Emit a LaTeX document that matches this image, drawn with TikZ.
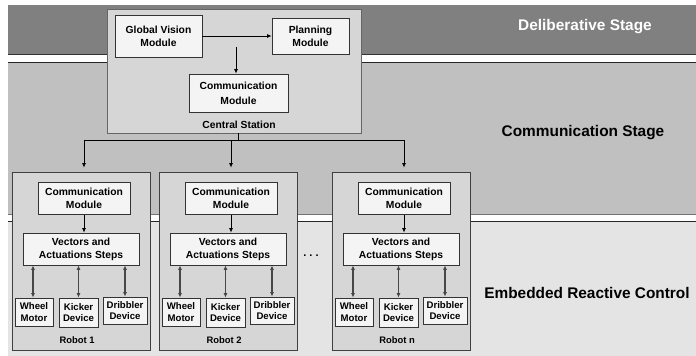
\documentclass[tikz,border=0pt]{standalone}
\usepackage{fontspec}
\setmainfont{Liberation Sans}
\usetikzlibrary{arrows.meta,calc}
\definecolor{banddark}{HTML}{808080}
\definecolor{bandmid}{HTML}{C0C0C0}
\definecolor{bandlight}{HTML}{E4E4E4}
\definecolor{boxgray}{HTML}{D6D6D6}
\definecolor{boxwhite}{HTML}{F4F4F4}
\tikzset{
  modbox/.style={draw=black!80, fill=boxwhite, line width=0.8pt, align=center,
    font=\bfseries\fontsize{10.3}{13}\selectfont, inner sep=0pt},
  devbox/.style={modbox, font=\bfseries\fontsize{9.6}{11.5}\selectfont},
  container/.style={draw=black!75, fill=boxgray, line width=0.8pt, inner sep=0pt},
  arr/.style={-{Latex[length=4.5pt,width=4pt]}, line width=0.8pt},
  darr/.style={{Latex[length=4.5pt,width=4pt]}-{Latex[length=4.5pt,width=4pt]}, line width=1.3pt, draw=black!72},
  stagelabel/.style={font=\bfseries\fontsize{15.4}{18}\selectfont},
  caption/.style={font=\bfseries\fontsize{10.3}{12}\selectfont},
  smallcaption/.style={font=\bfseries\fontsize{9.4}{11}\selectfont}
}
\begin{document}
\begin{tikzpicture}[x=1pt,y=-1pt]
\useasboundingbox (0,0) rectangle (696,356);
% bands
\fill[banddark] (8,5) rectangle (696,54);
\draw[black!80, line width=1pt] (8,54) -- (696,54);
\fill[bandmid] (8,62) rectangle (696,214);
\draw[black!85, line width=1pt] (8,62) -- (696,62);
\draw[black!55, line width=1pt] (8,214) -- (696,214);
\fill[bandlight] (8,221) rectangle (696,356);
\draw[black!85, line width=1pt] (8,221) -- (696,221);
% stage labels
\node[stagelabel, text=white] (lab1) at (585,27) {Deliberative Stage};
\node[stagelabel] (lab2) at (583,133) {Communication Stage};
\node[stagelabel] (lab3) at (587,293) {Embedded Reactive Control};
% central station
\node[container, draw=black!60, minimum width=254pt, minimum height=124pt] (cs) at (234,71) {};
\node[modbox, minimum width=87pt, minimum height=42pt] (gv) at (158.5,36) {Global Vision\\Module};
\node[modbox, minimum width=77pt, minimum height=36pt] (pl) at (310.5,36) {Planning\\Module};
\node[modbox, minimum width=99pt, minimum height=38pt, font=\bfseries\fontsize{10.3}{15}\selectfont] (cc) at (238.5,93) {Communication\\Module};
\node[caption] (cslab) at (239,125) {Central Station};
\draw[arr] (gv.east) -- (pl.west);
\coordinate (split) at (236,47);
\draw[arr] (split) -- (split |- cc.north);
% robots
\foreach \i/\dx/\lab in {1/0/1, 2/147/2, n/320/n}{
  \begin{scope}[xshift=\dx pt]
  \node[container, minimum width=138pt, minimum height=178pt] (b\i) at (81,261) {};
  \node[modbox, minimum width=92pt, minimum height=32pt, font=\bfseries\fontsize{10.3}{12.5}\selectfont] (c\i) at (84,198.5) {Communication\\Module};
  \node[modbox, minimum width=116pt, minimum height=32pt] (v\i) at (81,249) {Vectors and\\Actuations Steps};
  \node[devbox, minimum width=38pt, minimum height=28pt] (w\i) at (34,312) {Wheel\\Motor};
  \node[devbox, minimum width=39pt, minimum height=29pt] (k\i) at (78.5,312.5) {Kicker\\Device};
  \node[devbox, minimum width=44pt, minimum height=27pt] (d\i) at (125,310.5) {Dribbler\\Device};
  \node[smallcaption] (rl\i) at (77,340) {Robot \lab};
  \end{scope}
  \draw[arr] (c\i.south) -- (c\i.south |- v\i.north);
  \draw[darr] ([xshift=-1pt]w\i.north |- v\i.south) -- ([xshift=-1pt]w\i.north);
  \draw[darr] (k\i.north |- v\i.south) -- (k\i.north);
  \draw[darr] (d\i.north |- v\i.south) -- (d\i.north);
}
% dots
\node[font=\bfseries\fontsize{11}{12}\selectfont] (dots) at (311,256) {.\hspace{3pt}.\hspace{3pt}.};
% bus
\coordinate (bus) at (238,140);
\draw[line width=0.8pt] (cs.south -| bus) -- (bus);
\draw[line width=0.8pt] (bus -| c1.north) -- (bus -| cn.north);
\foreach \i in {1,2,n}{
  \draw[arr, shorten >=4pt] (bus -| c\i.north) -- (b\i.north -| c\i.north);
}
\end{tikzpicture}
\end{document}
